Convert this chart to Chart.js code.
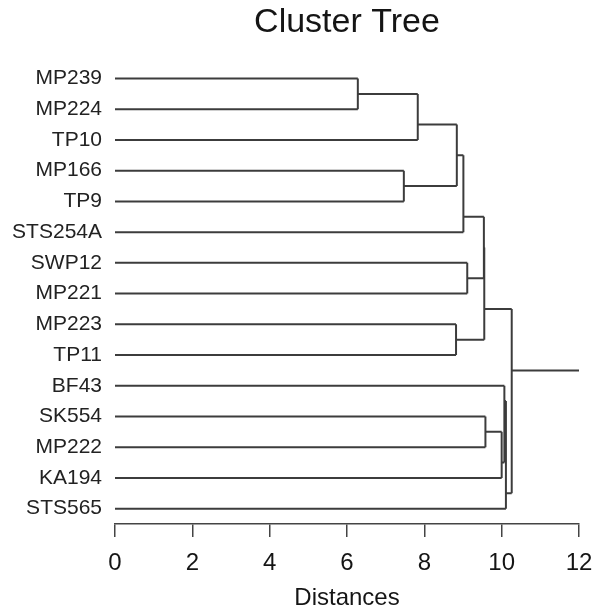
<!DOCTYPE html>
<html>
<head>
<meta charset="utf-8">
<script src="https://cdn.jsdelivr.net/npm/chart.js@4/dist/chart.umd.min.js"></script>
<style>
  body { margin: 0; background: #fff; }
  #wrap { width: 592px; height: 613px; position: relative; }
</style>
</head>
<body>
<div id="wrap"><canvas id="tree"></canvas></div>
<script>
// leaf labels, top to bottom
var leaves = ['MP239', 'MP224', 'TP10', 'MP166', 'TP9', 'STS254A', 'SWP12', 'MP221',
              'MP223', 'TP11', 'BF43', 'SK554', 'MP222', 'KA194', 'STS565'];

// merges like hclust: negative = leaf (1-based), positive = earlier merge (1-based)
var mergeLeft  = [-1, -4,  1, -9,  3,  5, -7,  6,  8, -12, 10, -11, 12,  9];
var mergeRight = [-2, -5, -3, -10, 2, -6, -8,  7,  4, -13, -14, 11, -15, 13];
var mergeDist  = [6.28, 7.47, 7.83, 8.82, 8.84, 9.01, 9.11, 9.54, 9.55, 9.58, 10.00, 10.07, 10.11, 10.26];

var xTicks = [0, 2, 4, 6, 8, 10, 12];
var xMax = 12;

var lineColor = '#3c3c3c';
var segs = [];
var nodes = [];   // {x, y, lo, hi}

function child(id) {
    if (id < 0) {
        var i = -id - 1;
        return { x: 0, y: i, lo: i, hi: i };
    }
    return nodes[id - 1];
}

for (var k = 0; k < mergeDist.length; k++) {
    var a = child(mergeLeft[k]);
    var b = child(mergeRight[k]);
    var h = mergeDist[k];
    var node = { x: h, y: a.hi + 0.5, lo: Math.min(a.lo, b.lo), hi: Math.max(a.hi, b.hi) };
    nodes.push(node);
    segs.push([{ x: a.x, y: a.y }, { x: h, y: a.y }]);
    segs.push([{ x: b.x, y: b.y }, { x: h, y: b.y }]);
    segs.push([{ x: h, y: a.y }, { x: h, y: b.y }]);
}
var root = nodes[nodes.length - 1];
segs.push([{ x: root.x, y: root.y }, { x: xMax, y: root.y }]);

var datasets = segs.map(function (s) {
    return {
        data: s,
        showLine: true,
        borderColor: lineColor,
        borderWidth: 2,
        pointRadius: 0,
        fill: false
    };
});

var ctx = document.getElementById('tree').getContext('2d');
var chart = new Chart(ctx, {
    type: 'scatter',
    data: { datasets: datasets },
    options: {
        responsive: true,
        maintainAspectRatio: false,
        animation: false,
        layout: { padding: 0 },
        plugins: {
            legend: { display: false },
            tooltip: { enabled: false },
            title: {
                display: true,
                text: 'Cluster Tree',
                fullSize: false,
                color: '#151515',
                font: { family: 'Liberation Sans, Arial, sans-serif', size: 34, weight: 'normal' },
                padding: { top: 2, bottom: 5 }
            }
        },
        scales: {
            x: {
                type: 'linear',
                min: 0,
                max: xMax,
                afterBuildTicks: function (scale) {
                    scale.ticks = xTicks.map(function (v) { return { value: v }; });
                },
                afterFit: function (scale) {
                    scale.height = 89;
                    scale.paddingLeft = 0;
                    scale.paddingRight = 13;
                },
                grid: {
                    drawOnChartArea: false,
                    tickLength: 13,
                    color: '#444',
                    lineWidth: 1.5
                },
                border: { color: '#444', width: 1.5 },
                ticks: {
                    padding: 12,
                    color: '#151515',
                    font: { family: 'Liberation Sans, Arial, sans-serif', size: 24 }
                },
                title: {
                    display: true,
                    text: 'Distances',
                    color: '#151515',
                    padding: 0,
                    font: { family: 'Liberation Sans, Arial, sans-serif', size: 24 }
                }
            },
            y: {
                type: 'linear',
                reverse: true,
                min: -1,
                max: 14.5,
                afterBuildTicks: function (scale) {
                    scale.ticks = leaves.map(function (_, i) { return { value: i }; });
                },
                afterFit: function (scale) { scale.width = 115; },
                grid: { display: false, drawTicks: false },
                border: { display: false },
                ticks: {
                    autoSkip: false,
                    padding: 13,
                    color: '#222',
                    font: { family: 'Liberation Sans, Arial, sans-serif', size: 21 },
                    callback: function (v) { return leaves[v]; }
                }
            }
        }
    }
});
</script>
</body>
</html>
